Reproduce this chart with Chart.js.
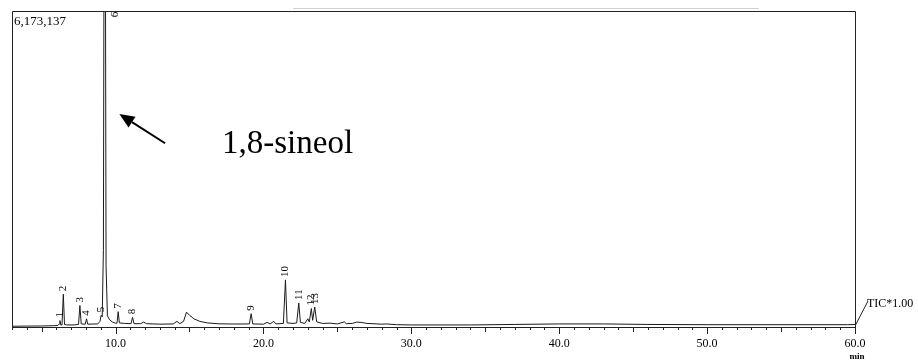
<!DOCTYPE html>
<html>
<head>
<meta charset="utf-8">
<script src="https://cdn.jsdelivr.net/npm/chart.js@4.4.1/dist/chart.umd.min.js"></script>
<style>
  html, body { margin: 0; padding: 0; background: #ffffff; }
  #wrap { width: 918px; height: 362px; position: relative; }
</style>
</head>
<body>
<div id="wrap"><canvas id="c"></canvas></div>
<script>
// ---- Data (retention time in min, TIC intensity in counts) ----
const times = [
  3.0, 4.0, 5.0, 5.8, 6.1, 6.2, 6.24, 6.3, 6.38, 6.47, 6.55, 6.7, 7.2, 7.5, 7.59, 7.68,
  7.95, 8.04, 8.12, 8.8, 8.95, 9.03, 9.1, 9.18, 9.27, 9.36, 9.45, 9.6, 9.8, 10.0,
  10.1, 10.18, 10.26, 10.6, 11.05, 11.15, 11.25, 11.7, 11.9, 12.1, 13.0, 13.9, 14.15, 14.35,
  14.6, 14.8, 15.0, 15.3, 15.7, 16.2, 17.0, 18.0, 19.05, 19.17, 19.28, 20.0, 20.25, 20.45,
  20.7, 20.85, 21.35, 21.49, 21.6, 22.0, 22.25, 22.39, 22.5, 22.8, 23.0, 23.1, 23.24, 23.33,
  23.47, 23.6, 24.0, 24.5, 25.0, 25.47, 25.6, 26.0, 26.3, 26.6, 27.0, 28.0, 28.3, 29.0,
  30.0, 34.0, 37.0, 40.0, 43.0, 46.0, 50.0, 55.0, 59.5, 60.0
];
const intensity = [
  15000, 18000, 20000, 25000, 30000, 60000, 125000, 40000, 40000, 640000, 50000, 40000, 40000, 50000, 420000, 60000,
  55000, 160000, 55000, 60000, 110000, 230000, 200000, 1500000, 14000000, 1200000, 220000, 140000, 95000, 75000,
  75000, 300000, 80000, 70000, 65000, 190000, 65000, 65000, 95000, 65000, 55000, 60000, 110000, 65000,
  110000, 290000, 230000, 160000, 110000, 80000, 62000, 58000, 60000, 260000, 60000, 55000, 90000, 60000,
  110000, 60000, 70000, 920000, 80000, 70000, 80000, 470000, 90000, 70000, 160000, 100000, 360000, 130000,
  390000, 100000, 70000, 75000, 60000, 100000, 65000, 70000, 95000, 90000, 70000, 55000, 60000, 45000,
  40000, 40000, 50000, 60000, 60000, 50000, 45000, 45000, 45000, 50000
];
// Peak annotations
const peakLabels = ['1','2','3','4','5','6','7','8','9','10','11','12','13'];
const peakTimes  = [6.24, 6.47, 7.59, 8.04, 9.03, 9.95, 10.18, 11.15, 19.17, 21.49, 22.39, 23.24, 23.47];
const peakTops   = [125000, 640000, 420000, 160000, 230000, 5990000, 300000, 190000, 260000, 920000, 470000, 360000, 390000];
// Axis
const xMin = 3.0, xMax = 60.0;
const yMax = 6173137;
const yMaxLabel = '6,173,137';
const xTickValues = [10, 20, 30, 40, 50, 60];
const xTickLabels = ['10.0', '20.0', '30.0', '40.0', '50.0', '60.0'];
const compoundName = '1,8-sineol';
const arrowTail = {t: 13.35, v: 3590000};
const arrowTip  = {t: 10.26, v: 4160000};
const compoundPos = {t: 17.2, v: 3400000};

const SERIF = '"Liberation Serif", "Times New Roman", serif';

const decor = {
  id: 'decor',
  afterDatasetsDraw(chart) {
    const {ctx, chartArea: a, scales: {x, y}} = chart;
    ctx.save();
    // faint artefact line above the frame
    ctx.strokeStyle = '#d0d0d0';
    ctx.lineWidth = 1;
    ctx.beginPath();
    ctx.moveTo(x.getPixelForValue(22.0), a.top - 2.5);
    ctx.lineTo(x.getPixelForValue(53.5), a.top - 2.5);
    ctx.stroke();

    // frame
    ctx.strokeStyle = '#222';
    ctx.lineWidth = 1;
    ctx.beginPath();
    ctx.moveTo(a.left + 0.5, a.bottom);
    ctx.lineTo(a.left + 0.5, a.top + 0.5);
    ctx.lineTo(a.right + 0.5, a.top + 0.5);
    ctx.lineTo(a.right + 0.5, a.bottom + 0.5);
    ctx.stroke();
    // x axis
    ctx.beginPath();
    ctx.moveTo(a.left, a.bottom + 0.5);
    ctx.lineTo(a.right + 1, a.bottom + 0.5);
    ctx.stroke();
    // ticks
    for (let t = Math.ceil(xMin); t <= xMax; t++) {
      const px = Math.round(x.getPixelForValue(t)) + 0.5;
      const len = (t % 10 === 0) ? 7 : (t % 5 === 0 ? 5 : 3);
      ctx.beginPath();
      ctx.moveTo(px, a.bottom);
      ctx.lineTo(px, a.bottom + len);
      ctx.stroke();
    }
    // tick labels
    ctx.fillStyle = '#000';
    ctx.font = '12px ' + SERIF;
    ctx.textAlign = 'center';
    ctx.textBaseline = 'alphabetic';
    xTickValues.forEach((v, i) => {
      ctx.fillText(xTickLabels[i], x.getPixelForValue(v), a.bottom + 20);
    });
    ctx.font = 'bold 9px ' + SERIF;
    ctx.fillText('min', a.right + 2, a.bottom + 32);

    // y max label
    ctx.font = '13px ' + SERIF;
    ctx.textAlign = 'left';
    ctx.fillText(yMaxLabel, a.left + 2, a.top + 14);

    // TIC label
    ctx.beginPath();
    ctx.moveTo(a.right + 0.5, a.bottom - 2);
    ctx.lineTo(a.right + 13, a.bottom - 26);
    ctx.stroke();
    ctx.font = '12px ' + SERIF;
    ctx.fillText('TIC*1.00', a.right + 12, a.bottom - 20);

    // peak labels (rotated)
    ctx.save();
    ctx.beginPath();
    ctx.rect(a.left, a.top, a.right - a.left, a.bottom - a.top);
    ctx.clip();
    ctx.font = '11px ' + SERIF;
    peakLabels.forEach((lab, i) => {
      const px = x.getPixelForValue(peakTimes[i]);
      const py = y.getPixelForValue(peakTops[i]);
      ctx.save();
      ctx.translate(px, py - 3);
      ctx.rotate(-Math.PI / 2);
      ctx.textAlign = 'left';
      ctx.textBaseline = 'middle';
      ctx.fillText(lab, 0, 0);
      ctx.restore();
    });
    ctx.restore();

    // arrow
    const x1 = x.getPixelForValue(arrowTail.t), y1 = y.getPixelForValue(arrowTail.v);
    const x2 = x.getPixelForValue(arrowTip.t), y2 = y.getPixelForValue(arrowTip.v);
    const ang = Math.atan2(y2 - y1, x2 - x1);
    const headLen = 15, headW = 6.5;
    const bx = x2 - headLen * Math.cos(ang), by = y2 - headLen * Math.sin(ang);
    ctx.strokeStyle = '#000';
    ctx.lineWidth = 2;
    ctx.beginPath();
    ctx.moveTo(x1, y1);
    ctx.lineTo(bx, by);
    ctx.stroke();
    ctx.fillStyle = '#000';
    ctx.beginPath();
    ctx.moveTo(x2, y2);
    ctx.lineTo(bx + headW * Math.sin(ang), by - headW * Math.cos(ang));
    ctx.lineTo(bx - headW * Math.sin(ang), by + headW * Math.cos(ang));
    ctx.closePath();
    ctx.fill();

    // compound name
    ctx.font = '33px ' + SERIF;
    ctx.textAlign = 'left';
    ctx.textBaseline = 'alphabetic';
    ctx.fillText(compoundName, x.getPixelForValue(compoundPos.t), y.getPixelForValue(compoundPos.v));
    ctx.restore();
  }
};

new Chart(document.getElementById('c'), {
  type: 'line',
  data: {
    datasets: [{
      data: times.map((t, i) => ({x: t, y: intensity[i]})),
      borderColor: '#1a1a1a',
      borderWidth: 1,
      pointRadius: 0,
      tension: 0,
      fill: false
    }]
  },
  options: {
    responsive: true,
    maintainAspectRatio: false,
    animation: false,
    layout: { padding: { left: 12, top: 11, right: 63, bottom: 35 } },
    plugins: { legend: { display: false }, tooltip: { enabled: false } },
    scales: {
      x: { type: 'linear', min: xMin, max: xMax, display: false },
      y: { type: 'linear', min: 0, max: yMax, display: false }
    }
  },
  plugins: [decor]
});
</script>
</body>
</html>
